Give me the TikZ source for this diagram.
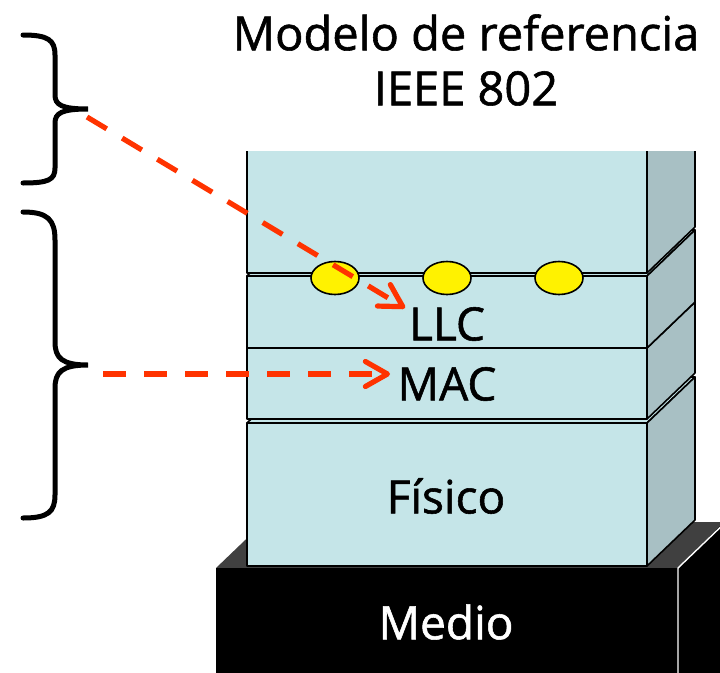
\documentclass[tikz,border=0pt]{standalone}
\usepackage{fontspec}
\setmainfont[FakeBold=1.2]{Open Sans}
\usetikzlibrary{arrows.meta,shapes.geometric}
\definecolor{frontc}{RGB}{197,229,232}
\definecolor{sidec}{RGB}{168,192,196}
\definecolor{redarrow}{RGB}{255,51,0}
\definecolor{mtop}{RGB}{64,64,64}
\tikzset{
  edge/.style={draw=black, line width=1.6pt, line join=round},
  brace/.style={draw=black, line width=5pt, line cap=round},
  redarr/.style={draw=redarrow, line width=5.2pt, dash pattern=on 23pt off 18pt,
     -{Straight Barb[length=22pt,width=25pt,round]}},
  lbl/.style={font=\fontsize{46}{50}\selectfont, inner sep=0pt},
  dot/.style={ellipse, draw=black, line width=1.6pt, fill=yellow, minimum width=48pt, minimum height=33pt, inner sep=0pt}
}
\newcommand\layerbox[2]{% front x 247..647, #1 top, #2 bottom
  \path[edge, fill=frontc] (247,#1) -- (295,#1-46) -- (695,#1-46) -- (647,#1) -- cycle;
  \path[edge, fill=sidec] (647,#1) -- (695,#1-46) -- (695,#2-46) -- (647,#2) -- cycle;
  \path[edge, fill=frontc] (247,#1) rectangle (647,#2);
}
\begin{document}
\begin{tikzpicture}[x=1pt,y=-1pt]
\useasboundingbox (0,0) rectangle (720,672);
\begin{scope}
\clip (0,0) rectangle (720,672);
% Medio
\fill[mtop] (216,568) -- (264,522) -- (730,522) -- (678,568) -- cycle;
\fill[black] (678,568) -- (730,516) -- (730,700) -- (678,700) -- cycle;
\fill[black] (216,568) rectangle (678,700);
\draw[white, line width=1.4pt] (678,680) -- (678,568) -- (730,518);
\end{scope}
\begin{scope}
\clip (0,151) rectangle (720,672);
\layerbox{423}{566}
\layerbox{348}{419}
\layerbox{276}{348}
% top block
\path[edge, fill=sidec] (647,100) -- (695,54) -- (695,227) -- (647,273) -- cycle;
\path[edge, fill=frontc] (247,100) rectangle (647,273);
\end{scope}
% dots
\node[dot] (d1) at (335,278) {};
\node[dot] (d2) at (447,278) {};
\node[dot] (d3) at (559,278) {};
% labels
\node[lbl] (llc) at (447,324) {LLC};
\node[lbl] (mac) at (447,384) {MAC};
\node[lbl] (fis) at (446,496) {Físico};
\node[lbl, text=white] (med) at (446,622) {Medio};
\node[lbl, font=\fontsize{47}{55}\selectfont, align=center] (title) at (466,60) {Modelo de referencia\\IEEE 802};
% braces
\coordinate (b1) at (88,109);
\coordinate (b2) at (88,365);
\path[brace] (23,35) .. controls (48,35) and (55,40) .. (55,55) -- (55,95)
  .. controls (55,105) and (62,109) .. (b1)
  .. controls (62,109) and (55,113) .. (55,123) -- (55,168)
  .. controls (55,180) and (48,183) .. (23,183);
\path[brace] (23,212) .. controls (48,212) and (55,220) .. (55,240) -- (55,342)
  .. controls (55,358) and (62,365) .. (b2)
  .. controls (62,365) and (55,372) .. (55,388) -- (55,495)
  .. controls (55,512) and (48,518) .. (23,518);
% arrows
\coordinate (a1s) at (87,117);
\coordinate (a1e) at (405,308);
\coordinate (a2s) at (103,374);
\coordinate (a2e) at (390,374);
\draw[redarr] (a1s) -- (a1e);
\draw[redarr] (a2s) -- (a2e);
\end{tikzpicture}
\end{document}
